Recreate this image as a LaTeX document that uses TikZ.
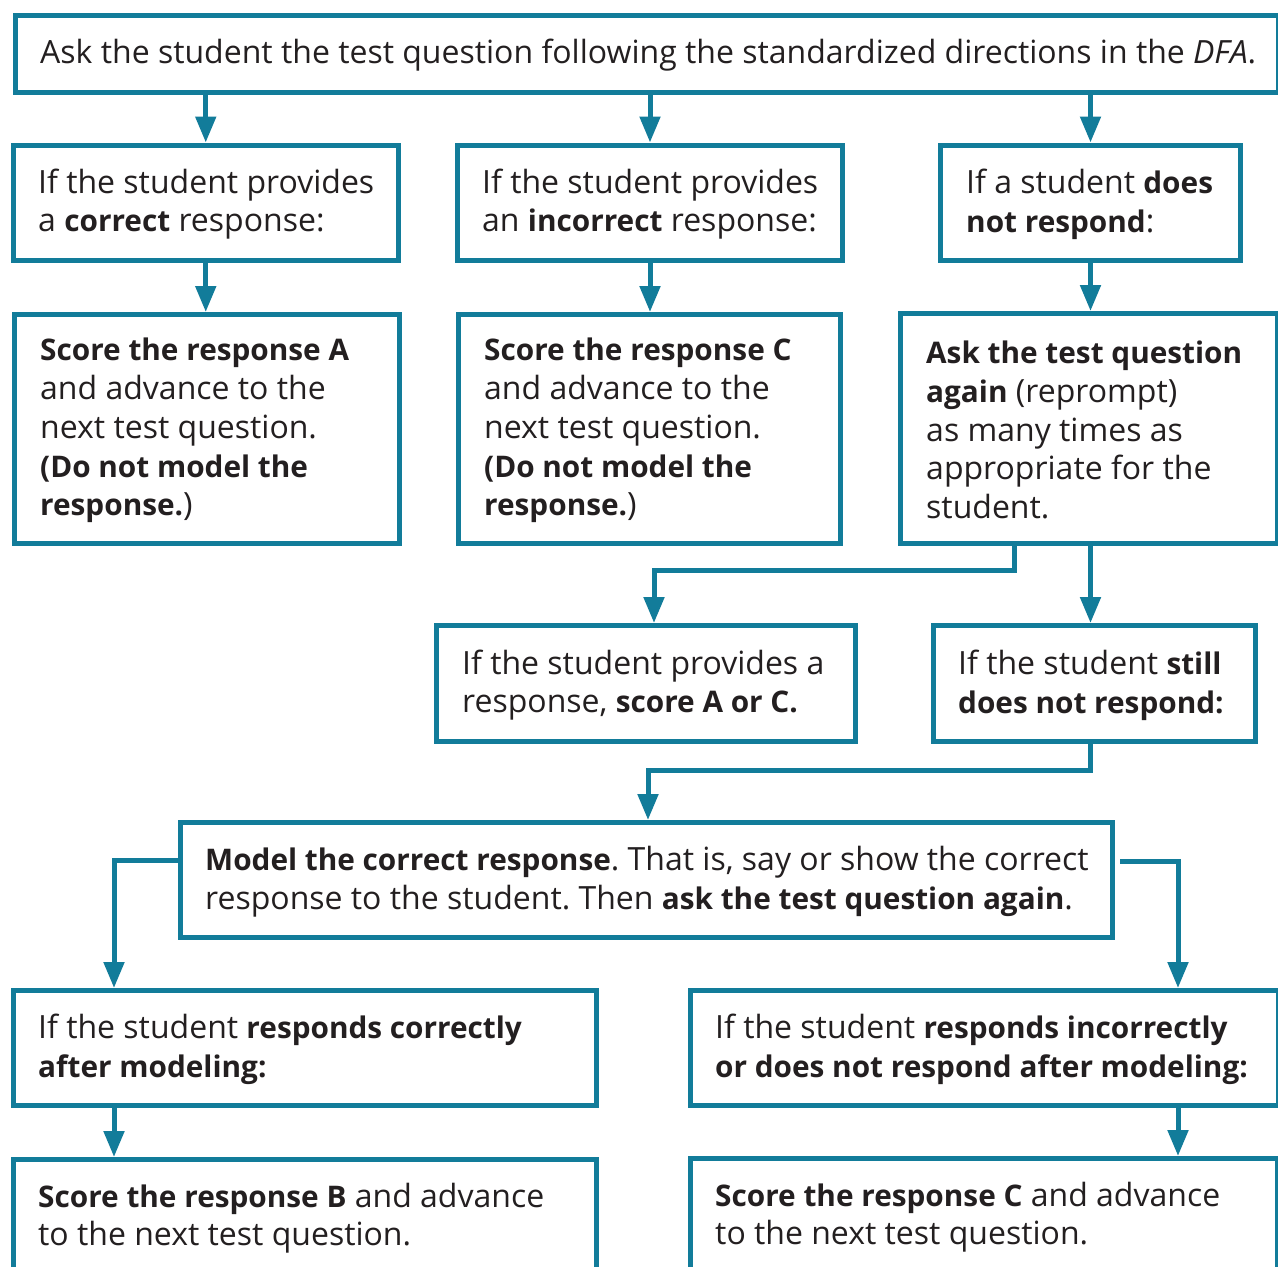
\documentclass[tikz,border=0pt]{standalone}
\usepackage{fontspec}
\setmainfont{Open Sans}[BoldFeatures={Scale=0.93}]
\usetikzlibrary{arrows.meta}
\definecolor{dfateal}{RGB}{18,124,154}
\definecolor{dfatext}{RGB}{35,31,32}
\frenchspacing
\begin{document}
\begin{tikzpicture}[x=1pt,y=-1pt,
  box/.style={draw=dfateal,line width=5pt,rectangle,inner sep=0pt,anchor=north west},
  txt/.style={anchor=west,align=left,inner sep=0pt,yshift=-1.5pt,text=dfatext,font=\fontsize{32}{38.8}\selectfont},
  arr/.style={draw=dfateal,line width=5pt,-{Triangle[width=20pt,length=26pt]}},
  ln/.style={draw=dfateal,line width=5pt}]
\useasboundingbox (0,0) rectangle (1278,1267);
\fill[white] (0,0) rectangle (1278,1267);
% boxes: (x,y) top-left of stroke centres, width, height
\newcommand{\mkbox}[5]{\node[box,minimum width=#4pt,minimum height=#5pt] (#1) at (#2,#3) {};}
\mkbox{top}{12.5}{12.5}{1263}{77}
\mkbox{b1}{11}{142.5}{384.5}{115}
\mkbox{b2}{455}{142.5}{385}{115}
\mkbox{b3}{938}{142.5}{300}{115}
\mkbox{b4}{12}{312}{385}{229}
\mkbox{b5}{456}{312}{382}{229}
\mkbox{b6}{898}{311}{377}{230}
\mkbox{b7}{434}{623}{419}{116}
\mkbox{b8}{931}{623}{322}{116}
\mkbox{bm}{178}{820}{932}{115}
\mkbox{b9}{11}{988}{583}{115}
\mkbox{b10}{688}{988}{588}{115}
\mkbox{b11}{11}{1157}{583}{118}
\mkbox{b12}{688}{1156}{587}{119}
% texts
\node[txt] (t0) at ([xshift=27.5pt]top.west) {Ask the student the test question following the standardized directions in the \textit{DFA}.};
\node[txt] (t1) at ([xshift=27pt]b1.west) {If the student provides\\a \textbf{correct} response:};
\node[txt] (t2) at ([xshift=27pt]b2.west) {If the student provides\\an \textbf{incorrect} response:};
\node[txt] (t3) at ([xshift=28pt]b3.west) {If a student \textbf{does}\\\textbf{not respond}:};
\node[txt] (t4) at ([xshift=28pt]b4.west) {\textbf{Score the response A}\\and advance to the\\next test question.\\\textbf{(Do not model the}\\\textbf{response.})};
\node[txt] (t5) at ([xshift=28pt]b5.west) {\textbf{Score the response C}\\and advance to the\\next test question.\\\textbf{(Do not model the}\\\textbf{response.})};
\node[txt] (t6) at ([xshift=28pt]b6.west) {\textbf{Ask the test question}\\\textbf{again} (reprompt)\\as many times as\\appropriate for the\\student.};
\node[txt] (t7) at ([xshift=28pt]b7.west) {If the student provides a\\response, \textbf{score A or C.}};
\node[txt] (t8) at ([xshift=27pt]b8.west) {If the student \textbf{still}\\\textbf{does not respond:}};
\node[txt] (tm) at ([xshift=27pt]bm.west) {\textbf{Model the correct response}. That is, say or show the correct\\response to the student. Then \textbf{ask the test question again}.};
\node[txt] (t9) at ([xshift=27pt]b9.west) {If the student \textbf{responds correctly}\\\textbf{after modeling:}};
\node[txt] (t10) at ([xshift=27pt]b10.west) {If the student \textbf{responds incorrectly}\\\textbf{or does not respond after modeling:}};
\node[txt,anchor=north west] (t11) at ([xshift=27pt,yshift=-24pt]b11.north west) {\textbf{Score the response B} and advance\\to the next test question.};
\node[txt,anchor=north west] (t12) at ([xshift=27pt,yshift=-24pt]b12.north west) {\textbf{Score the response C} and advance\\to the next test question.};
% junction coordinates
\coordinate (j1) at (1014,570);
\coordinate (j2) at (654,570);
\coordinate (j4) at (648,770);
\coordinate (j5) at (114,860);
\coordinate (j6) at (1178,861);
% connectors
\draw[arr] (top.south -| b1.north) -- (b1.north);
\draw[arr] (top.south -| b2.north) -- (b2.north);
\draw[arr] (top.south -| b3.north) -- (b3.north);
\draw[arr] (b1.south) -- (b1.south |- b4.north);
\draw[arr] (b2.south) -- (b2.south |- b5.north);
\draw[arr] (b3.south) -- (b3.south |- b6.north);
\draw[arr] (b6.south -| j1) -- (j1) -- (j2) -- (j2 |- b7.north);
\draw[arr] (b6.south -| b3.south) -- (b3.south |- b8.north);
\draw[arr] (b8.south -| b3.south) -- (b3.south |- j4) -- (j4) -- (j4 |- bm.north);
\draw[arr] (bm.west |- j5) -- (j5) -- (j5 |- b9.north);
\draw[arr] ([xshift=5pt]bm.east |- j6) -- (j6) -- (j6 |- b10.north);
\draw[arr] (b9.south -| j5) -- (b11.north -| j5);
\draw[arr] (b10.south -| j6) -- (b12.north -| j6);
\end{tikzpicture}
\end{document}
